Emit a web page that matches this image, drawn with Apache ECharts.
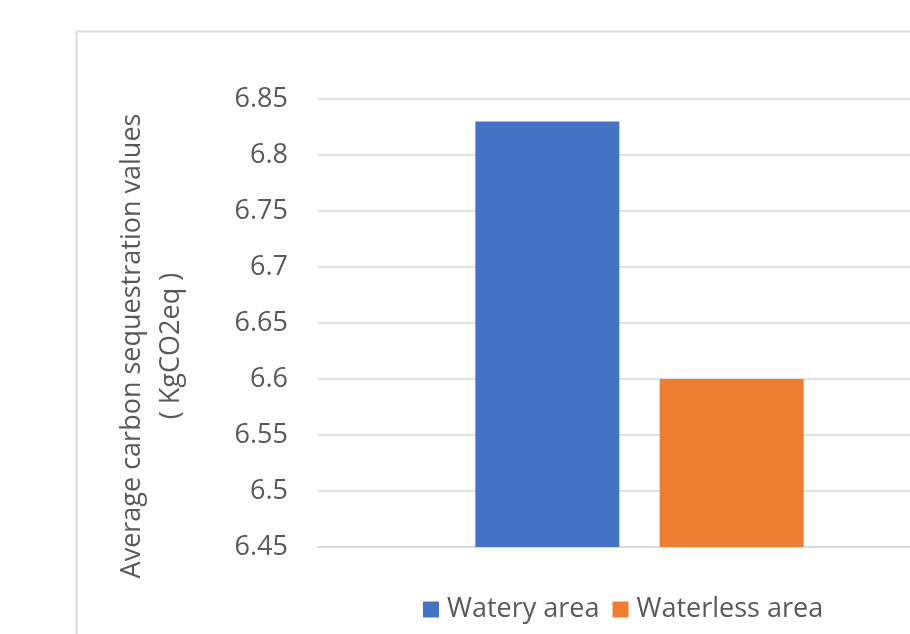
<!DOCTYPE html>
<html>
<head>
<meta charset="utf-8">
<script src="https://cdn.jsdelivr.net/npm/echarts@6/dist/echarts.min.js"></script>
<style>
  html, body { margin: 0; padding: 0; background: #ffffff; }
  #chart { width: 910px; height: 634px; }
</style>
</head>
<body>
<div id="chart"></div>
<script>
// Average carbon sequestration by area type
const categories = [''];
const seriesNames = ['Watery area', 'Waterless area'];
const wateryValues = [6.83];
const waterlessValues = [6.6];
const yMin = 6.45;
const yMax = 6.85;
const yStep = 0.05;

const FONT = '"Open Sans", sans-serif';
const TEXT_COLOR = '#595959';
const GRID_COLOR = '#d9d9d9';

const chart = echarts.init(document.getElementById('chart'), null, { renderer: 'canvas' });

chart.setOption({
  animation: false,
  backgroundColor: '#ffffff',
  graphic: [{
    type: 'rect',
    shape: { x: 76.5, y: 31.5, width: 1000, height: 1000 },
    style: { fill: 'none', stroke: GRID_COLOR, lineWidth: 2 },
    silent: true,
    z: -1
  }],
  grid: { left: 318, top: 99, bottom: 87, width: 643, containLabel: false, outerBoundsMode: 'none' },
  legend: {
    data: seriesNames,
    left: 418,
    top: 591,
    icon: 'rect',
    itemWidth: 16,
    itemHeight: 16,
    itemGap: 13,
    textStyle: { fontFamily: FONT, fontSize: 27, color: TEXT_COLOR, padding: [0, 0, 0, 3] }
  },
  xAxis: {
    type: 'category',
    data: categories,
    axisLine: { show: true, lineStyle: { color: GRID_COLOR, width: 1.5 } },
    axisTick: { show: false },
    axisLabel: { show: false },
    splitLine: { show: false }
  },
  yAxis: {
    type: 'value',
    min: yMin,
    max: yMax,
    interval: yStep,
    name: 'Average carbon sequestration values\n( KgCO2eq )',
    nameLocation: 'middle',
    nameRotate: 90,
    nameGap: 166,
    nameMoveOverlap: false,
    nameTextStyle: {
      fontFamily: FONT, fontSize: 27, color: TEXT_COLOR,
      lineHeight: 39, align: 'center', verticalAlign: 'middle',
      padding: [0, 46, 0, 0]
    },
    axisLine: { show: false },
    axisTick: { show: false },
    axisLabel: {
      margin: 30,
      fontFamily: FONT, fontSize: 27, color: TEXT_COLOR,
      formatter: v => String(parseFloat(v.toFixed(2)))
    },
    splitLine: { lineStyle: { color: GRID_COLOR, width: 1.5 } }
  },
  series: [
    {
      name: seriesNames[0],
      type: 'bar',
      data: wateryValues,
      barWidth: 144,
      barGap: '28%',
      itemStyle: { color: '#4472C4' }
    },
    {
      name: seriesNames[1],
      type: 'bar',
      data: waterlessValues,
      barWidth: 144,
      barGap: '28%',
      itemStyle: { color: '#ED7D31' }
    }
  ]
});
</script>
</body>
</html>
